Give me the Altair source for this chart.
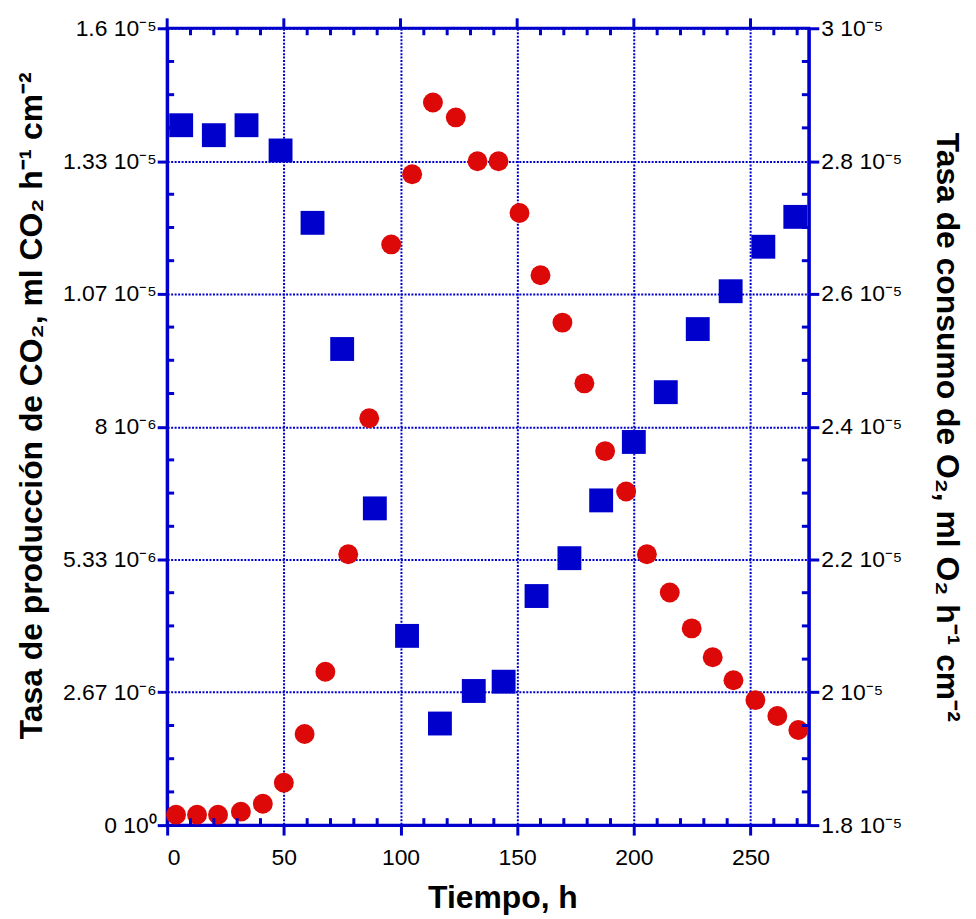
import altair as alt
import pandas as pd

# --- data ---
time_co2 = [3.8, 12.8, 21.8, 31.6, 41.0, 50.0, 58.9, 67.8, 77.6, 86.6, 96.0, 105.0,
            113.9, 123.7, 133.0, 142.0, 151.0, 160.0, 169.4, 178.8, 187.7, 196.7,
            205.6, 215.4, 224.8, 233.8, 242.7, 252.1, 261.5, 270.5]
co2_e6 = [0.21, 0.21, 0.21, 0.27, 0.43, 0.85, 1.83, 3.08, 5.44, 8.17, 11.66, 13.07,
          14.51, 14.21, 13.33, 13.33, 12.29, 11.04, 10.09, 8.87, 7.51, 6.70,
          5.44, 4.67, 3.95, 3.37, 2.91, 2.51, 2.19, 1.91]

time_o2 = [6.0, 20.0, 34.0, 48.6, 62.3, 75.0, 89.0, 102.8, 116.9, 131.4, 144.2,
           158.3, 172.4, 186.0, 200.0, 213.7, 227.4, 241.5, 255.5, 269.2]
o2_e5 = [2.854, 2.839, 2.854, 2.816, 2.707, 2.517, 2.277, 2.085, 1.953, 2.002, 2.016,
         2.145, 2.202, 2.289, 2.377, 2.452, 2.547, 2.604, 2.671, 2.716]

x_major = [0, 50, 100, 150, 200, 250]
x_minor = [v for v in range(10, 275, 10) if v % 50 != 0]
left_major = [0, 2.6667e-6, 5.3333e-6, 8e-6, 1.06667e-5, 1.33333e-5, 1.6e-5]
left_labels = ["0 10\u2070", "2.67 10\u207b\u2076", "5.33 10\u207b\u2076", "8 10\u207b\u2076",
               "1.07 10\u207b\u2075", "1.33 10\u207b\u2075", "1.6 10\u207b\u2075"]
left_minor = [i * 2.6667e-6 / 4 for i in range(24) if i % 4 != 0]
right_major = [1.8e-5, 2.0e-5, 2.2e-5, 2.4e-5, 2.6e-5, 2.8e-5, 3.0e-5]
right_labels = ["1.8 10\u207b\u2075", "2 10\u207b\u2075", "2.2 10\u207b\u2075", "2.4 10\u207b\u2075",
                "2.6 10\u207b\u2075", "2.8 10\u207b\u2075", "3 10\u207b\u2075"]
right_minor = [1.8e-5 + i * 0.05e-5 for i in range(24) if i % 4 != 0]

BLUE = "#0000CC"
RED = "#DD0808"
W, H = 645, 801
FONT = "Liberation Sans"

df_c = pd.DataFrame({"t": time_co2, "v": [v * 1e-6 for v in co2_e6]})
df_s = pd.DataFrame({"t": time_o2, "v": [v * 1e-5 for v in o2_e5]})

xscale = alt.Scale(domain=[0, 275], nice=False, zero=False)
lscale = alt.Scale(domain=[0, 1.6e-5], nice=False, zero=False)
rscale = alt.Scale(domain=[1.8e-5, 3.0e-5], nice=False, zero=False)


def lab_expr(labels):
    arr = "[" + ",".join("'" + s + "'" for s in labels) + "]"
    return arr + "[round(datum.index*" + str(len(labels) - 1) + ")]"


axis_common = dict(
    domainColor=BLUE, domainWidth=3, tickColor=BLUE, tickWidth=3, tickSize=10,
    labelFont=FONT, labelFontSize=23, labelColor="black",
    titleFont=FONT, titleFontSize=32, titleFontWeight="bold", titleColor="black",
    gridColor=BLUE, gridWidth=2, gridDash=[2, 1.5], gridOpacity=1,
)

circles = alt.Chart(df_c).mark_point(
    shape="circle", filled=True, size=400, color=RED, opacity=1
).encode(
    x=alt.X("t:Q", scale=xscale, axis=alt.Axis(
        values=x_major, title="Tiempo, h", grid=True, labelPadding=12, titlePadding=13,
        titleX=337, **axis_common)),
    y=alt.Y("v:Q", scale=lscale, axis=alt.Axis(
        values=left_major, labelExpr=lab_expr(left_labels), grid=True, labelPadding=1,
        title="Tasa de producción de CO\u2082, ml CO\u2082 h\u207b\u00b9 cm\u207b\u00b2",
        titlePadding=14, titleY=379, **axis_common)),
)

squares = alt.Chart(df_s).mark_point(
    shape="square", filled=True, size=576, color=BLUE, opacity=1
).encode(
    x=alt.X("t:Q", scale=xscale),
    y=alt.Y("v:Q", scale=rscale, axis=alt.Axis(
        orient="right", values=right_major, labelExpr=lab_expr(right_labels), grid=False,
        labelPadding=2,
        title="Tasa de consumo de O\u2082, ml O\u2082 h\u207b\u00b9 cm\u207b\u00b2",
        titlePadding=28, **axis_common)),
)

# minor ticks (inward) and top major ticks
df_xmin = pd.DataFrame({"t": x_minor})
df_xmaj = pd.DataFrame({"t": x_major})
df_lmin = pd.DataFrame({"v": left_minor})
df_rmin = pd.DataFrame({"v": right_minor})

tick_style = dict(color=BLUE, strokeWidth=3)

bottom_minor = alt.Chart(df_xmin).mark_rule(**tick_style).encode(
    x=alt.X("t:Q", scale=xscale), y=alt.value(H - 7), y2=alt.value(H))
top_minor = alt.Chart(df_xmin).mark_rule(**tick_style).encode(
    x=alt.X("t:Q", scale=xscale), y=alt.value(0), y2=alt.value(7))
top_major = alt.Chart(df_xmaj).mark_rule(**tick_style).encode(
    x=alt.X("t:Q", scale=xscale), y=alt.value(-10), y2=alt.value(0))
left_minor_l = alt.Chart(df_lmin).mark_rule(**tick_style).encode(
    y=alt.Y("v:Q", scale=lscale, axis=None), x=alt.value(0), x2=alt.value(7))
right_minor_l = alt.Chart(df_rmin).mark_rule(**tick_style).encode(
    y=alt.Y("v:Q", scale=rscale, axis=None), x=alt.value(W - 7), x2=alt.value(W))

chart = alt.layer(
    circles, squares, bottom_minor, top_minor, top_major, left_minor_l, right_minor_l
).resolve_scale(y="independent").properties(
    width=W, height=H, background="white",
    padding={"left": 7, "top": 6, "right": 5, "bottom": 5}
).configure_view(stroke=BLUE, strokeWidth=3)

chart.save("out.html", embed_options={"renderer": "svg", "actions": False})
